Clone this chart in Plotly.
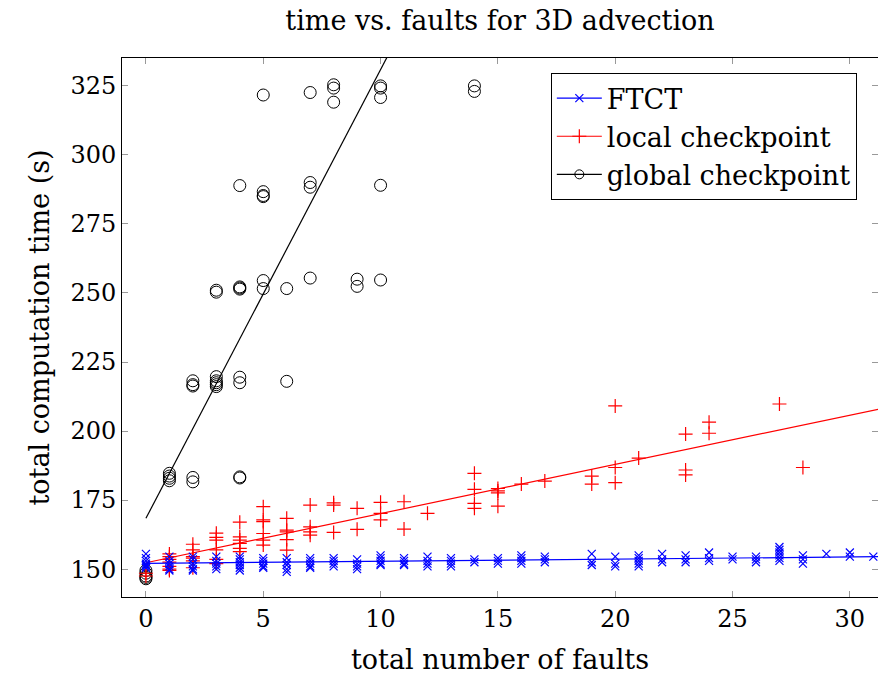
import plotly.graph_objects as go

# ---------------- data ----------------
# FTCT (blue x)
ftct_groups = {
    0: [155.5, 154, 153, 152, 151.5, 151, 150.5],
    1: [154.5, 153, 152, 151, 150, 149.5],
    2: [154.5, 153.5, 152, 151, 150, 149.5],
    3: [154.5, 153, 152, 151, 150],
    4: [154.5, 153.5, 152.5, 151.5, 150.5, 149.5],
    5: [154, 153, 152, 151, 150.5],
    6: [154, 152.5, 151.5, 150, 149],
    7: [154, 153, 152, 151, 150.5],
    8: [154, 153, 152, 151],
    9: [153.5, 152, 151, 150],
    10: [155, 154, 153, 152, 151.5],
    11: [154, 153, 152, 151.5],
    12: [154.5, 153, 152, 151],
    13: [154, 153, 152, 151],
    14: [153.5, 152.5],
    15: [154, 153, 152],
    16: [155, 154, 153, 152],
    17: [154.5, 153.5, 152.5],
    19: [155.5, 152.5, 151.5],
    20: [154.5, 152, 151],
    21: [155, 154, 153, 152, 151],
    22: [155.5, 153.5, 152.5],
    23: [155, 153.5, 152.5],
    24: [156, 154, 153],
    25: [154.5, 153.5],
    26: [154.5, 153.5, 152.5],
    27: [158, 157, 156, 155, 154, 153],
    28: [155, 153.5, 152],
    29: [155.5],
    30: [156, 154.5],
    31: [154.5],
}
ftct_x = [k for k, vals in ftct_groups.items() for v in vals]
ftct_y = [v for k, vals in ftct_groups.items() for v in vals]

# local checkpoint (red +)
local_groups = {
    0: [148.5, 147.5],
    1: [155.5, 154.5, 153.5, 152.5, 151, 150, 149.5],
    2: [159, 157, 154.5, 154, 153, 150.5],
    3: [163, 161.5, 160.5, 157, 153.5, 152],
    4: [167, 161.7, 160.5, 159.3, 157.5, 156.3],
    5: [172.6, 167.8, 167.2, 162.9, 160.5, 158.7],
    6: [168.4, 164.1, 163.5, 160.7, 156.9],
    7: [173.2, 165.3, 163.5, 162.3],
    8: [174, 173.2, 163.3],
    9: [172, 164.4],
    10: [174.2, 170.2, 167.8],
    11: [174.4, 164.5],
    12: [170.2],
    14: [184.7, 178.9, 173.8, 172],
    15: [179.2, 178.3, 177.6, 172.8],
    16: [180.8],
    17: [181.9],
    19: [183.7, 180.8],
    20: [209.1, 186.8, 181.3],
    21: [190.2],
    23: [198.9, 185.9, 184.1],
    24: [203.2, 199.2],
    27: [209.8],
    28: [186.8],
}
local_x = [k for k, vals in local_groups.items() for v in vals]
local_y = [v for k, vals in local_groups.items() for v in vals]

# global checkpoint (black o)
global_groups = {
    0: [149.5, 148.5, 147.5, 147, 146.5],
    1: [184.7, 183.7, 182.9, 182],
    2: [218.2, 216.8, 216.3, 183.2, 181.6],
    3: [251, 250.3, 219.7, 218.2, 217.5, 216.8, 216.1],
    4: [288.9, 252.2, 251.8, 251.4, 219.5, 217.5, 183.4, 183.0],
    5: [321.7, 286.7, 285.3, 284.9, 254.5, 251.6],
    6: [251.6, 218],
    7: [322.6, 290, 288.3, 255.4],
    8: [325.4, 324.2, 319.1],
    9: [255, 252.4],
    10: [325, 324.2, 320.8, 289, 254.7],
    14: [325, 323],
}
global_x = [k for k, vals in global_groups.items() for v in vals]
global_y = [v for k, vals in global_groups.items() for v in vals]

# fitted trend lines (end points)
ftct_fit_x = [0, 32]
ftct_fit_y = [152.05, 154.55]
local_fit_x = [0, 32]
local_fit_y = [152.3, 209.3]
global_fit_x = [0, 14]
global_fit_y = [168.4, 395.9]

x_ticks = [0, 5, 10, 15, 20, 25, 30]
y_ticks = [150, 175, 200, 225, 250, 275, 300, 325]

FONT = "DejaVu Serif"
FS = 27
TFS = 24

fig = go.Figure()

fig.add_trace(go.Scatter(x=global_x, y=global_y, mode="markers", showlegend=False,
                         marker=dict(symbol="circle-open", size=12, color="black",
                                     line=dict(width=1, color="black")), cliponaxis=False))
fig.add_trace(go.Scatter(x=global_fit_x, y=global_fit_y, mode="lines", showlegend=False,
                         line=dict(color="black", width=1.2)))
fig.add_trace(go.Scatter(x=local_x, y=local_y, mode="markers", showlegend=False,
                         marker=dict(symbol="cross-thin-open", size=10, color="red",
                                     line=dict(width=1.2, color="red")), cliponaxis=False))
fig.add_trace(go.Scatter(x=local_fit_x, y=local_fit_y, mode="lines", showlegend=False,
                         line=dict(color="red", width=1.2)))
fig.add_trace(go.Scatter(x=ftct_x, y=ftct_y, mode="markers", showlegend=False,
                         marker=dict(symbol="x-thin-open", size=8, color="blue",
                                     line=dict(width=1.2, color="blue")), cliponaxis=False))
fig.add_trace(go.Scatter(x=ftct_fit_x, y=ftct_fit_y, mode="lines", showlegend=False,
                         line=dict(color="blue", width=1.2)))

# legend entries
fig.add_trace(go.Scatter(x=[None], y=[None], mode="lines+markers", name="FTCT",
                         line=dict(color="blue", width=1.2),
                         marker=dict(symbol="x-thin-open", size=8, color="blue",
                                     line=dict(width=1.2, color="blue"))))
fig.add_trace(go.Scatter(x=[None], y=[None], mode="lines+markers", name="local checkpoint",
                         line=dict(color="red", width=1.2),
                         marker=dict(symbol="cross-thin-open", size=10, color="red",
                                     line=dict(width=1.2, color="red"))))
fig.add_trace(go.Scatter(x=[None], y=[None], mode="lines+markers", name="global checkpoint",
                         line=dict(color="black", width=1.2),
                         marker=dict(symbol="circle-open", size=9, color="black",
                                     line=dict(width=1, color="black"))))

fig.update_layout(
    width=878, height=675,
    margin=dict(l=122, r=0, t=58, b=78),
    paper_bgcolor="white", plot_bgcolor="white",
    font=dict(family=FONT, size=FS, color="black"),
    title=dict(text="time vs. faults for 3D advection", x=0.5695, xanchor="center",
               y=0.97, yanchor="middle", font=dict(family=FONT, size=FS)),
    legend=dict(x=0.972, y=0.972, xanchor="right", yanchor="top",
                bordercolor="black", borderwidth=1, bgcolor="white",
                font=dict(family=FONT, size=FS), itemwidth=45,
                tracegroupgap=0),
    showlegend=True,
)
fig.update_xaxes(range=[-1.02, 31.2], tickvals=x_ticks, ticktext=[str(v) for v in x_ticks],
                 showgrid=False, zeroline=False, showline=True, linecolor="black", linewidth=1,
                 mirror="allticks", ticks="inside", ticklen=6, tickcolor="#999999",
                 tickfont=dict(family=FONT, size=TFS),
                 title=dict(text="total number of faults", font=dict(family=FONT, size=FS),
                            standoff=18))
fig.update_yaxes(range=[139.9, 335.1], tickvals=y_ticks, ticktext=[str(v) for v in y_ticks],
                 showgrid=False, zeroline=False, showline=True, linecolor="black", linewidth=1,
                 mirror="allticks", ticks="inside", ticklen=6, tickcolor="#999999",
                 tickfont=dict(family=FONT, size=TFS),
                 title=dict(text="total computation time (s)", font=dict(family=FONT, size=FS),
                            standoff=12))

fig.write_html("out.html")
